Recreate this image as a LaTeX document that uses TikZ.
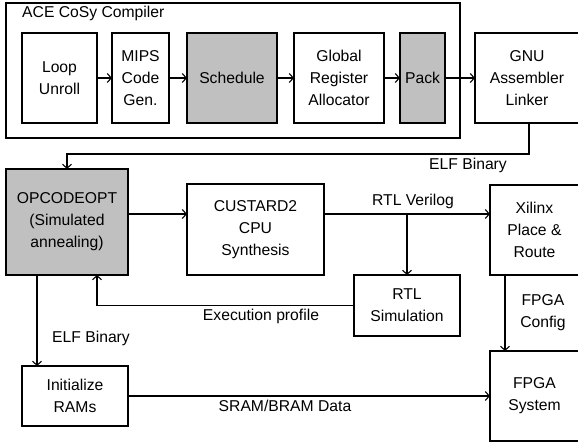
\documentclass[tikz,border=0pt]{standalone}
\usepackage{fontspec}
\setmainfont{Liberation Sans}
\usetikzlibrary{arrows.meta}
\definecolor{boxgrey}{RGB}{192,192,192}
\newcommand{\dfont}{\fontsize{15.7}{22}\selectfont}
\begin{document}
\begin{tikzpicture}[x=1pt,y=-1pt,
  blk/.style={draw, line width=1.3pt, align=center, inner sep=0pt, outer sep=0pt, font=\dfont},
  grey/.style={fill=boxgrey},
  lbl/.style={font=\dfont, inner sep=0pt, align=center},
  arr/.style={line width=1.1pt, -{Straight Barb[length=4pt,width=9pt,line width=1.1pt]}},
  ln/.style={line width=1.1pt}]
\useasboundingbox (0,0) rectangle (578,443);
% ACE container
\node[blk, minimum width=454pt, minimum height=135pt] (ace) at (233,70.5) {};
\node[lbl, anchor=west] (acel) at (22,13) {ACE CoSy Compiler};
% top row
\node[blk, minimum width=75pt, minimum height=90pt] (loop) at (59.5,78) {Loop\\Unroll};
\node[blk, minimum width=57pt, minimum height=90pt] (mips) at (140.5,78) {MIPS\\Code\\Gen.};
\node[blk, grey, minimum width=90pt, minimum height=90pt] (sch) at (232,78) {Schedule};
\node[blk, minimum width=90pt, minimum height=90pt] (glob) at (339,78) {Global\\Register\\Allocator};
\node[blk, grey, minimum width=45pt, minimum height=90pt] (pack) at (422.5,78) {Pack};
\node[blk, minimum width=104pt, minimum height=90pt] (gnu) at (527,78) {GNU\\Assembler\\Linker};
% middle
\node[blk, grey, minimum width=122pt, minimum height=106pt] (opc) at (67,222) {OPCODEOPT\\(Simulated\\annealing)};
\node[blk, minimum width=137pt, minimum height=91pt] (cus) at (255.5,229.5) {CUSTARD2\\CPU\\Synthesis};
\node[blk, minimum width=89pt, minimum height=90pt] (xil) at (534.5,230) {Xilinx\\Place \&\\Route};
\node[blk, minimum width=106pt, minimum height=61pt] (rtl) at (407,305.5) {RTL\\Simulation};
% bottom
\node[blk, minimum width=89pt, minimum height=90pt] (fpga) at (534.5,396) {FPGA\\System};
\node[blk, minimum width=106pt, minimum height=60pt] (init) at (75,396) {Initialize\\RAMs};
% helper coordinates
\coordinate (elfx) at (529,0);
\coordinate (vy) at (0,214);
\coordinate (exx) at (97,0);
\coordinate (ix) at (37,0);
\coordinate (fx) at (505,0);
% connectors top row
\draw[arr] (loop.east) -- (mips.west);
\draw[arr] (mips.east) -- (sch.west);
\draw[arr] (sch.east) -- (glob.west);
\draw[arr] (glob.east) -- (pack.west);
\draw[arr] (pack.east) -- (gnu.west);
% ELF binary to OPCODEOPT
\draw[arr] (gnu.south -| elfx) -- ++(0,31) -| (opc.north);
\node[lbl] (elf1) at (468,165) {ELF Binary};
% OPCODEOPT -> CUSTARD
\draw[arr] (opc.east |- vy) -- (cus.west |- vy);
% CUSTARD -> Xilinx
\draw[arr] (cus.east |- vy) -- (xil.west |- vy);
\node[lbl] (rtlv) at (413,201) {RTL Verilog};
\draw[arr] (rtl.north |- vy) -- (rtl.north);
% Execution profile
\draw[arr] (rtl.west) -| (opc.south -| exx);
\node[lbl] (expr) at (261,316) {Execution profile};
% OPCODEOPT -> Initialize
\draw[arr] (opc.south -| ix) -- (init.north -| ix);
\node[lbl] (elf2) at (91,338) {ELF Binary};
% Initialize -> FPGA
\draw[arr] (init.east) -- (fpga.west);
\node[lbl] (sram) at (285,406) {SRAM/BRAM Data};
% Xilinx -> FPGA
\draw[arr] (xil.south -| fx) -- (fpga.north -| fx);
\node[lbl] (fcfg) at (543,312.5) {FPGA\\Config};
\end{tikzpicture}
\end{document}
